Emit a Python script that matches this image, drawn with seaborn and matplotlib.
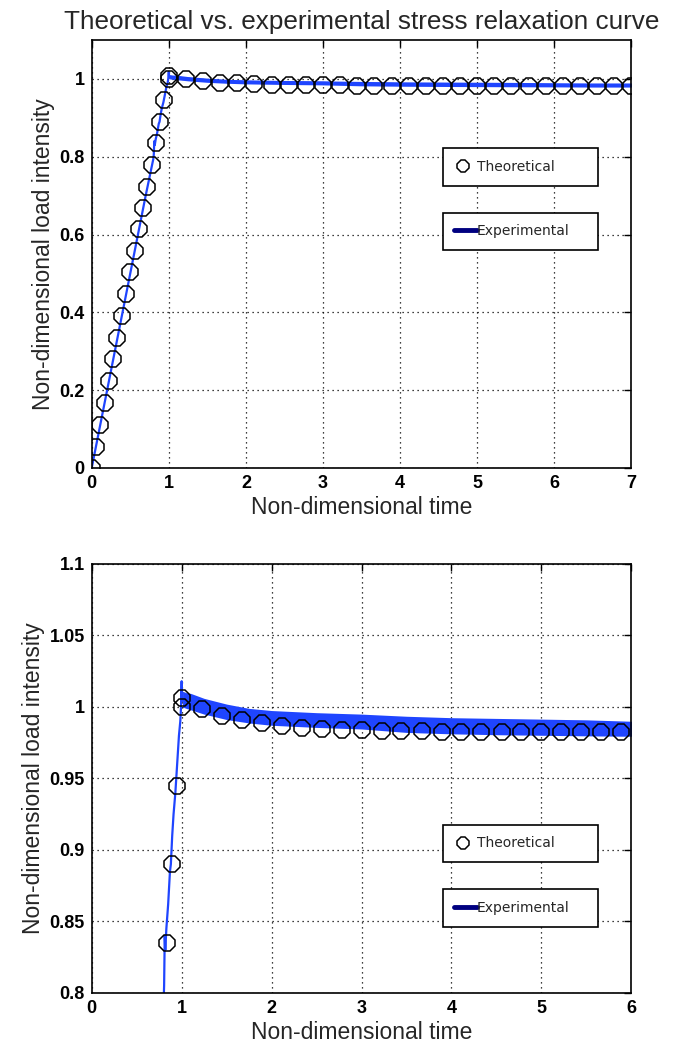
import matplotlib
matplotlib.use("Agg")
import numpy as np
import seaborn as sns
import matplotlib.pyplot as plt
from matplotlib.lines import Line2D

# theoretical curve
th_time = [0.0, 0.056, 0.111, 0.167, 0.222, 0.278, 0.333, 0.389, 0.444, 0.5,
           0.556, 0.611, 0.667, 0.722, 0.778, 0.833, 0.889, 0.944, 1.0,
           1.0, 1.222, 1.444, 1.667, 1.889, 2.111, 2.333, 2.556, 2.778, 3.0,
           3.222, 3.444, 3.667, 3.889, 4.111, 4.333, 4.556, 4.778, 5.0, 5.222,
           5.444, 5.667, 5.889, 6.111, 6.333, 6.556, 6.778, 7.0]
th_load = [0.0, 0.055, 0.11, 0.166, 0.223, 0.279, 0.334, 0.39, 0.446, 0.503,
           0.558, 0.613, 0.668, 0.723, 0.779, 0.835, 0.89, 0.945, 1.0,
           1.0066, 0.9989, 0.9937, 0.9907, 0.9886, 0.9867, 0.9856, 0.9849, 0.9842, 0.9836,
           0.9832, 0.9830, 0.9829, 0.9828, 0.9827, 0.9826, 0.9826, 0.9825, 0.9825, 0.9825,
           0.9824, 0.9824, 0.9824, 0.9824, 0.9823, 0.9823, 0.9823, 0.9823]

# experimental loading ramp (single trace)
exp_time = [0.0, 0.1, 0.2, 0.3, 0.4, 0.5, 0.6, 0.7, 0.8, 0.805, 0.812, 0.818,
            0.83, 0.85, 0.87, 0.88, 0.895, 0.91, 0.93, 0.94, 0.955, 0.97, 0.985,
            0.993, 1.0, 1.004, 1.01]
exp_load = [0.0, 0.1, 0.2, 0.3, 0.4, 0.5, 0.6, 0.7, 0.795, 0.805, 0.84, 0.83,
            0.845, 0.862, 0.885, 0.89, 0.91, 0.925, 0.94, 0.95, 0.965, 0.98, 0.99,
            1.0, 1.018, 1.004, 1.006]

# experimental relaxation part: noise envelope of the trace
band_time = [1.01, 1.05, 1.1, 1.25, 1.5, 1.75, 2.0, 2.5, 3.0, 3.5, 4.0, 4.5,
             5.0, 5.5, 6.0, 6.5, 7.0]
band_hi = [1.011, 1.010, 1.0095, 1.006, 1.002, 0.999, 0.9975, 0.996, 0.995, 0.9935,
           0.9925, 0.992, 0.9915, 0.991, 0.990, 0.9895, 0.9895]
band_lo = [1.000, 0.999, 0.998, 0.995, 0.9912, 0.9888, 0.9872, 0.9857, 0.9846, 0.9822,
           0.9812, 0.9806, 0.9802, 0.9798, 0.9795, 0.979, 0.979]

blue = "#1f45ff"

sns.set_style("white")
plt.rcParams["font.family"] = ["Liberation Sans", "DejaVu Sans"]

fig = plt.figure(figsize=(7, 10.5), dpi=100)
ax1 = fig.add_axes([0.131, 0.5543, 0.771, 0.4076])
ax2 = fig.add_axes([0.131, 0.0543, 0.771, 0.4086])


def draw(ax):
    mid = [(a + b) / 2 for a, b in zip(band_hi, band_lo)]
    ax.fill_between(band_time, band_lo, band_hi, color=blue, lw=0, zorder=2)
    sns.lineplot(x=exp_time + band_time, y=exp_load + mid, ax=ax, color=blue,
                 lw=1.6, estimator=None, sort=False, zorder=2)
    sns.lineplot(x=th_time, y=th_load, ax=ax, estimator=None, sort=False,
                 linestyle="", marker="8", markersize=12.5, markerfacecolor="none",
                 markeredgecolor="black", markeredgewidth=1.1, zorder=3)
    ax.grid(True, color="black", linestyle=(0, (1, 3)), linewidth=0.9)
    ax.set_axisbelow(True)
    for s in ax.spines.values():
        s.set_color("black")
        s.set_linewidth(1.2)
    ax.tick_params(direction="in", length=5, width=1, top=True, right=True,
                   pad=5, colors="black")
    for lab in ax.get_xticklabels() + ax.get_yticklabels():
        lab.set_family(["Liberation Sans Narrow", "Liberation Sans"])
        lab.set_fontweight("bold")
        lab.set_fontsize(13)
    ax.set_xlabel("Non-dimensional time", fontsize=16.5, labelpad=3)
    ax.set_ylabel("Non-dimensional load intensity", fontsize=16.5, labelpad=3)


def legends(ax, y_th, y_ex):
    h_th = Line2D([], [], ls="", marker="8", ms=9, mfc="none", mec="black", mew=1.1)
    h_ex = Line2D([], [], color="#000080", lw=3.5)
    kw = dict(loc="center", mode="expand", fancybox=False, framealpha=1,
              borderpad=0.85, prop={"family": "DejaVu Sans", "size": 10},
              borderaxespad=0)
    l1 = ax.legend([h_th], ["Theoretical"], bbox_to_anchor=(0.65, y_th, 0.289, 0.0),
                   handlelength=1.2, handletextpad=0.4, **kw)
    l1.get_frame().set_edgecolor("black")
    l1.get_frame().set_linewidth(1.2)
    ax.add_artist(l1)
    l2 = ax.legend([h_ex], ["Experimental"], bbox_to_anchor=(0.65, y_ex, 0.289, 0.0),
                   handlelength=1.6, handletextpad=0.0, **kw)
    l2.get_frame().set_edgecolor("black")
    l2.get_frame().set_linewidth(1.2)


# top panel: full curve
ax1.set_xlim(0, 7)
ax1.set_ylim(0, 1.1)
ax1.set_xticks(range(0, 8))
ax1.set_yticks([0, 0.2, 0.4, 0.6, 0.8, 1.0])
ax1.set_yticklabels(["0", "0.2", "0.4", "0.6", "0.8", "1"])
draw(ax1)
legends(ax1, 0.703, 0.553)
ax1.set_title("Theoretical vs. experimental stress relaxation curve",
              fontsize=18.8, pad=8)

# bottom panel: zoom on the relaxation part
ax2.set_xlim(0, 6)
ax2.set_ylim(0.8, 1.1)
ax2.set_xticks(range(0, 7))
ax2.set_yticks([0.8, 0.85, 0.9, 0.95, 1.0, 1.05, 1.1])
ax2.set_yticklabels(["0.8", "0.85", "0.9", "0.95", "1", "1.05", "1.1"])
draw(ax2)
legends(ax2, 0.3485, 0.198)

fig.savefig("out.png", dpi=100)
